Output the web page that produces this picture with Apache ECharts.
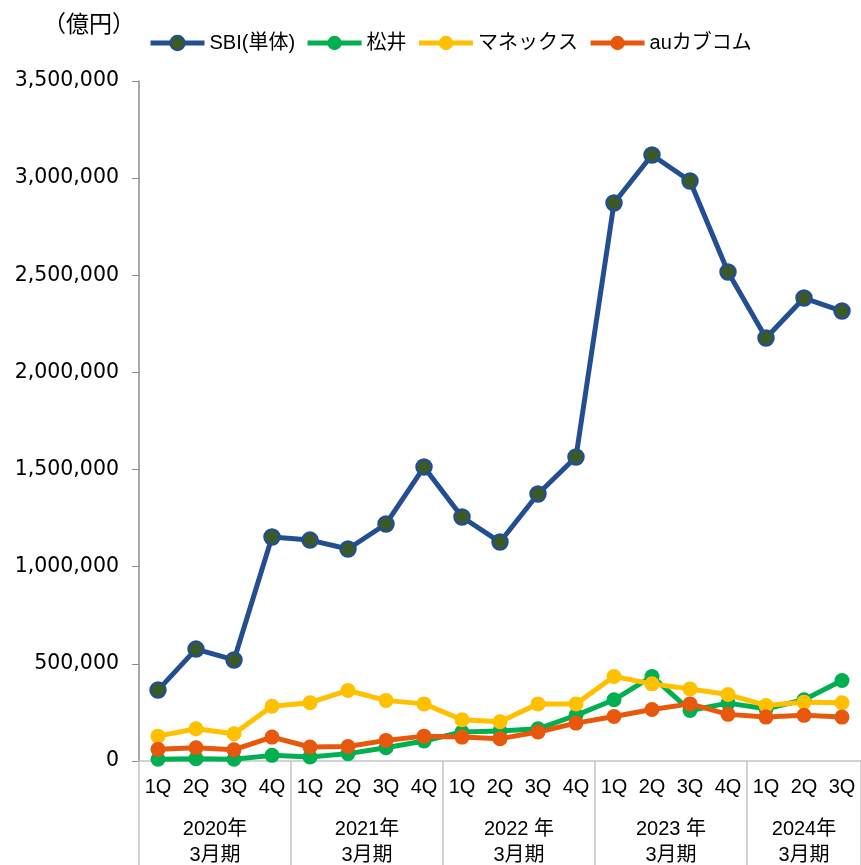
<!DOCTYPE html>
<html>
<head>
<meta charset="utf-8">
<script src="https://cdn.jsdelivr.net/npm/echarts@6/dist/echarts.min.js"></script>
<style>
html,body{margin:0;padding:0;background:#fff;}
#main{width:861px;height:865px;}
</style>
</head>
<body>
<div id="main"></div>
<script>
var quarters = ['1Q','2Q','3Q','4Q','1Q','2Q','3Q','4Q','1Q','2Q','3Q','4Q','1Q','2Q','3Q','4Q','1Q','2Q','3Q'];
var groupLabels = ['2020年\n3月期','2021年\n3月期','2022 年\n3月期','2023 年\n3月期','2024年\n3月期'];
var groupSizes = [4,4,4,4,3];

var sbi = [365000,576000,520000,1153000,1137000,1091000,1220000,1513000,1256000,1127000,1374000,1565000,2872000,3119000,2985000,2517000,2177000,2383000,2316000];
var matsui = [9000,12000,9000,29000,21000,38000,68000,103000,149000,154000,166000,235000,315000,435000,260000,298000,269000,315000,414000];
var monex = [128000,166000,140000,282000,300000,363000,312000,294000,212000,202000,294000,294000,435000,397000,371000,342000,286000,303000,300000];
var kabucom = [60000,68000,58000,123000,72000,75000,106000,128000,123000,115000,149000,195000,229000,265000,294000,240000,226000,235000,226000];

var fontFamily = '"Liberation Sans", Arial, "Noto Sans CJK JP", sans-serif';
var numFont = '"DejaVu Sans", Verdana, sans-serif';

// group boundaries and label positions
var starts = [];
var labelIdx = {};
var s = 0;
groupSizes.forEach(function (n, g) {
    starts.push(s);
    // even group: center falls on a boundary -> shift label half a band left
    var mid = s + Math.floor(n / 2);
    labelIdx[mid] = {text: groupLabels[g], shift: n % 2 === 0};
    s += n;
});

function groupFormatter(value, index) {
    var item = labelIdx[index];
    if (!item) return '';
    var style = item.shift ? 'a' : 'b';
    return item.text.split('\n').map(function (t) {
        return '{' + style + '|' + t + '}';
    }).join('\n');
}

function lineSeries(name, data, color, fill) {
    return {
        name: name,
        type: 'line',
        data: data,
        symbol: 'circle',
        symbolSize: 15,
        lineStyle: {color: color, width: 5},
        itemStyle: {color: fill || color, borderColor: color, borderWidth: fill ? 2.5 : 0},
        emphasis: {disabled: true}
    };
}

var myChart = echarts.init(document.getElementById('main'));
var option = {
    animation: false,
    textStyle: {fontFamily: fontFamily},
    title: {
        text: '（億円）',
        left: 38,
        top: 9,
        textStyle: {fontSize: 23, fontWeight: 'normal', color: '#000', fontFamily: fontFamily}
    },
    legend: {
        left: 143,
        top: 28,
        itemWidth: 54,
        itemHeight: 18,
        itemGap: 10,
        lineStyle: {width: 5},
        textStyle: {fontSize: 20, color: '#000', fontFamily: fontFamily},
        data: ['SBI(単体)', '松井', 'マネックス', 'auカブコム']
    },
    grid: {left: 139, top: 81, width: 726, bottom: 104, containLabel: false},
    xAxis: [
        {
            type: 'category',
            data: quarters,
            boundaryGap: true,
            axisLine: {lineStyle: {color: '#c4c4c4', width: 1.5}},
            axisTick: {
                show: true,
                interval: function (index) { return starts.indexOf(index) >= 0; },
                length: 104,
                lineStyle: {color: '#c4c4c4', width: 1.5}
            },
            axisLabel: {interval: 0, fontSize: 20, color: '#000', margin: 16, fontFamily: fontFamily}
        },
        {
            type: 'category',
            data: quarters,
            boundaryGap: true,
            position: 'bottom',
            offset: 47,
            axisLine: {show: false},
            axisTick: {show: false},
            axisLabel: {
                interval: 0,
                formatter: groupFormatter,
                color: '#000',
                rich: {
                    a: {fontSize: 20, lineHeight: 26, color: '#000', padding: [0, 38, 0, 0], fontFamily: fontFamily},
                    b: {fontSize: 20, lineHeight: 26, color: '#000', fontFamily: fontFamily}
                }
            }
        }
    ],
    yAxis: {
        type: 'value',
        min: 0,
        max: 3500000,
        interval: 500000,
        axisLine: {show: true, lineStyle: {color: '#8c8c8c', width: 1.5}},
        axisTick: {show: true, length: 7, lineStyle: {color: '#8c8c8c'}},
        splitLine: {show: false},
        axisLabel: {
            fontSize: 20.5,
            color: '#000',
            margin: 20,
            fontFamily: numFont,
            formatter: function (v) { return v.toLocaleString('en-US'); }
        }
    },
    series: [
        lineSeries('SBI(単体)', sbi, '#234e91', '#3b5a24'),
        lineSeries('松井', matsui, '#00b050'),
        lineSeries('マネックス', monex, '#ffc000'),
        lineSeries('auカブコム', kabucom, '#e8580c')
    ]
};
myChart.setOption(option);
</script>
</body>
</html>
